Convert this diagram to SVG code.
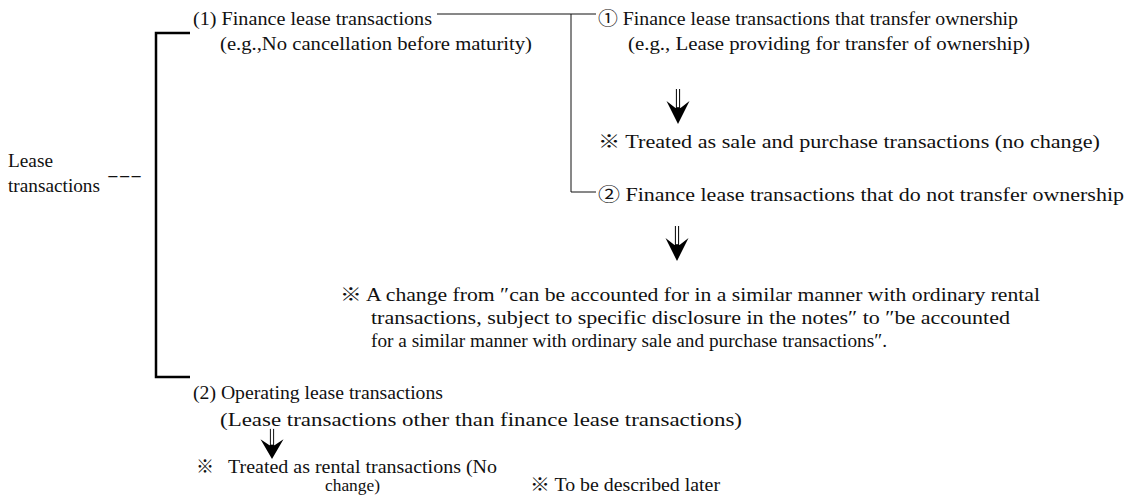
<svg xmlns="http://www.w3.org/2000/svg" xmlns:xlink="http://www.w3.org/1999/xlink" width="1128" height="495" viewBox="0 0 1128 495">
<style>
text{font-family:"Liberation Serif","Noto Sans CJK JP",serif;font-size:18px;fill:#111;}
.thin{stroke:#111;stroke-width:1;fill:none;}
.thick{stroke:#000;stroke-width:2.5;fill:none;}
.shaft{stroke:#000;stroke-width:1;}
</style>
<defs>
<g id="arrow">
<line class="shaft" x1="-1.6" y1="-35" x2="-1.6" y2="-12"/>
<line class="shaft" x1="1.6" y1="-35" x2="1.6" y2="-12"/>
<path d="M0,0 L-11.5,-23 L-2.5,-16 L0,-17 L2.5,-16 L11.5,-23 Z" fill="#000"/>
</g>
</defs>
<rect width="1128" height="495" fill="#fff"/>
<g id="connectors">
<path class="thick" d="M190,33 H156 V377 H190"/>
<path class="thin" d="M437,14 H596 M571,14 V192 H596"/>
<use xlink:href="#arrow" x="678" y="124"/>
<use xlink:href="#arrow" x="677" y="261"/>
<use xlink:href="#arrow" transform="translate(272,459) scale(1,0.86)"/>
</g>
<g id="root">
<text x="8" y="167" textLength="45" lengthAdjust="spacingAndGlyphs">Lease</text>
<text x="8" y="192" textLength="92" lengthAdjust="spacingAndGlyphs">transactions</text>
<text x="107" y="181" textLength="35" lengthAdjust="spacingAndGlyphs">---</text>
</g>
<g id="finance">
<text x="193" y="25" textLength="239" lengthAdjust="spacingAndGlyphs">(1) Finance lease transactions</text>
<text x="220" y="50" textLength="312" lengthAdjust="spacingAndGlyphs">(e.g.,No cancellation before maturity)</text>
</g>
<g id="transfer">
<text x="598" y="25" textLength="420" lengthAdjust="spacingAndGlyphs">① Finance lease transactions that transfer ownership</text>
<text x="628" y="50" textLength="402" lengthAdjust="spacingAndGlyphs">(e.g., Lease providing for transfer of ownership)</text>
</g>
<g id="transfer-note">
<text x="598" y="148" textLength="502" lengthAdjust="spacingAndGlyphs">※ Treated as sale and purchase transactions (no change)</text>
</g>
<g id="no-transfer">
<text x="598" y="201" textLength="526" lengthAdjust="spacingAndGlyphs">② Finance lease transactions that do not transfer ownership</text>
</g>
<g id="no-transfer-note">
<text x="340" y="301" textLength="700" lengthAdjust="spacingAndGlyphs">※ A change from ″can be accounted for in a similar manner with ordinary rental</text>
<text x="371" y="324" textLength="639" lengthAdjust="spacingAndGlyphs">transactions, subject to specific disclosure in the notes″ to ″be accounted</text>
<text x="371" y="347" textLength="516" lengthAdjust="spacingAndGlyphs">for a similar manner with ordinary sale and purchase transactions″.</text>
</g>
<g id="operating">
<text x="193" y="399" textLength="250" lengthAdjust="spacingAndGlyphs">(2) Operating lease transactions</text>
<text x="220" y="426" textLength="522" lengthAdjust="spacingAndGlyphs">(Lease transactions other than finance lease transactions)</text>
</g>
<g id="operating-note">
<text x="196" y="473">※</text>
<text x="228" y="473" textLength="269" lengthAdjust="spacingAndGlyphs">Treated as rental transactions (No</text>
<text x="325" y="491" textLength="55" lengthAdjust="spacingAndGlyphs" style="font-size:17px">change)</text>
</g>
<g id="later-note">
<text x="530" y="491" textLength="190" lengthAdjust="spacingAndGlyphs">※ To be described later</text>
</g>
</svg>
